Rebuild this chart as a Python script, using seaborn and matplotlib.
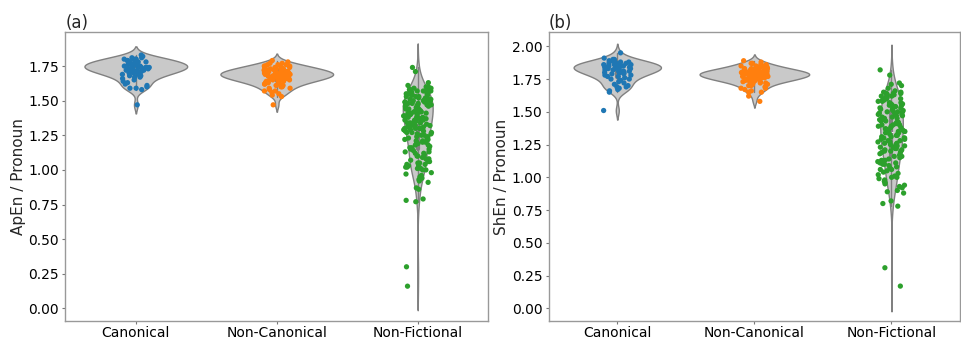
import matplotlib
matplotlib.use('Agg')

import matplotlib.pyplot as plt
import numpy as np
import pandas as pd
import seaborn as sns

categories = ['Canonical', 'Non-Canonical', 'Non-Fictional']

# ApEn / Pronoun values
apen_canon = [1.47, 1.58, 1.59, 1.59, 1.60, 1.61, 1.62, 1.63, 1.64, 1.65,
              1.66, 1.67, 1.67, 1.68, 1.68, 1.69, 1.69, 1.70, 1.70, 1.70,
              1.71, 1.71, 1.71, 1.72, 1.72, 1.72, 1.73, 1.73, 1.73, 1.73,
              1.74, 1.74, 1.74, 1.74, 1.75, 1.75, 1.75, 1.75, 1.76, 1.76,
              1.76, 1.76, 1.77, 1.77, 1.77, 1.78, 1.78, 1.78, 1.78, 1.79,
              1.79, 1.79, 1.80, 1.80, 1.80, 1.81, 1.81, 1.82, 1.83, 1.74]
apen_noncanon = [1.47, 1.53, 1.54, 1.55, 1.56, 1.57, 1.57, 1.58, 1.59, 1.59,
                 1.60, 1.60, 1.61, 1.61, 1.62, 1.62, 1.62, 1.63, 1.63, 1.63,
                 1.64, 1.64, 1.64, 1.65, 1.65, 1.65, 1.65, 1.66, 1.66, 1.66,
                 1.66, 1.67, 1.67, 1.67, 1.67, 1.67, 1.68, 1.68, 1.68, 1.68,
                 1.68, 1.69, 1.69, 1.69, 1.69, 1.69, 1.69, 1.70, 1.70, 1.70,
                 1.70, 1.70, 1.71, 1.71, 1.71, 1.71, 1.71, 1.72, 1.72, 1.72,
                 1.72, 1.73, 1.73, 1.73, 1.73, 1.74, 1.74, 1.74, 1.74, 1.75,
                 1.75, 1.75, 1.76, 1.76, 1.76, 1.77, 1.77, 1.78, 1.79, 1.70,
                 1.68, 1.66, 1.64, 1.72, 1.69, 1.71, 1.67, 1.65, 1.73, 1.70]
apen_nonfict = [1.74, 1.71, 1.63, 1.61, 1.60, 1.60,
                1.59, 1.59, 1.58, 1.58, 1.58, 1.57, 1.57, 1.57, 1.56, 1.56,
                1.56, 1.55, 1.55, 1.55, 1.54, 1.54, 1.54, 1.53, 1.53, 1.53,
                1.52, 1.52, 1.52, 1.51, 1.51, 1.51, 1.50, 1.50, 1.50, 1.50,
                1.49, 1.49, 1.49, 1.48, 1.48, 1.48, 1.47, 1.47, 1.47, 1.47,
                1.46, 1.46, 1.46, 1.45, 1.45, 1.45, 1.44, 1.44, 1.44, 1.43,
                1.43, 1.43, 1.42, 1.42, 1.42, 1.41, 1.41, 1.41, 1.40, 1.40,
                1.40, 1.40,
                1.39, 1.39, 1.38, 1.38, 1.38, 1.37, 1.37, 1.36, 1.36, 1.36,
                1.35, 1.35, 1.34, 1.34, 1.34, 1.33, 1.33, 1.32, 1.32, 1.32,
                1.31, 1.31, 1.30, 1.30, 1.30, 1.30,
                1.29, 1.29, 1.28, 1.28, 1.27, 1.27, 1.26, 1.26, 1.25, 1.25,
                1.24, 1.24, 1.23, 1.23, 1.22, 1.22, 1.21, 1.21, 1.20, 1.20,
                1.20, 1.27,
                1.19, 1.18, 1.17, 1.16, 1.15, 1.15, 1.14, 1.13, 1.12, 1.12,
                1.11, 1.10, 1.10, 1.18, 1.16, 1.13,
                1.09, 1.08, 1.08, 1.07, 1.06, 1.06, 1.05, 1.05, 1.04, 1.04,
                1.03, 1.03, 1.02, 1.02, 1.01, 1.01, 1.00, 1.00,
                0.98, 0.97, 0.96, 0.95, 0.94, 0.93, 0.92, 0.91,
                0.87, 0.86, 0.79, 0.78, 0.77,
                0.30, 0.16]

# ShEn / Pronoun values
shen_canon = [1.51, 1.65, 1.66, 1.67, 1.68, 1.69, 1.69, 1.70, 1.71, 1.72,
              1.73, 1.74, 1.75, 1.75, 1.76, 1.77, 1.77, 1.78, 1.78, 1.79,
              1.79, 1.80, 1.80, 1.80, 1.81, 1.81, 1.81, 1.82, 1.82, 1.82,
              1.83, 1.83, 1.83, 1.84, 1.84, 1.84, 1.84, 1.85, 1.85, 1.85,
              1.85, 1.86, 1.86, 1.86, 1.86, 1.87, 1.87, 1.87, 1.88, 1.88,
              1.88, 1.89, 1.89, 1.90, 1.90, 1.91, 1.85, 1.83, 1.80, 1.95]
shen_noncanon = [1.58, 1.62, 1.65, 1.65, 1.66, 1.67, 1.68, 1.68, 1.69, 1.70,
                 1.70, 1.71, 1.71, 1.72, 1.72, 1.72, 1.73, 1.73, 1.73, 1.74,
                 1.74, 1.74, 1.74, 1.75, 1.75, 1.75, 1.75, 1.76, 1.76, 1.76,
                 1.76, 1.76, 1.77, 1.77, 1.77, 1.77, 1.77, 1.78, 1.78, 1.78,
                 1.78, 1.78, 1.78, 1.79, 1.79, 1.79, 1.79, 1.79, 1.79, 1.80,
                 1.80, 1.80, 1.80, 1.80, 1.81, 1.81, 1.81, 1.81, 1.81, 1.82,
                 1.82, 1.82, 1.82, 1.83, 1.83, 1.83, 1.83, 1.84, 1.84, 1.84,
                 1.85, 1.85, 1.85, 1.86, 1.86, 1.87, 1.87, 1.88, 1.89, 1.79,
                 1.78, 1.77, 1.80, 1.76, 1.81, 1.75, 1.82, 1.74, 1.79, 1.80]
shen_nonfict = [1.82, 1.78, 1.72, 1.71, 1.70, 1.68,
                1.66, 1.65, 1.65, 1.64, 1.64, 1.64, 1.63, 1.63, 1.62, 1.62,
                1.61, 1.61, 1.60, 1.60, 1.59, 1.59, 1.58, 1.58, 1.57, 1.57,
                1.56, 1.56, 1.55, 1.55, 1.55, 1.54, 1.54, 1.53, 1.53, 1.52,
                1.52, 1.51, 1.51, 1.50, 1.50, 1.50, 1.49, 1.49, 1.48, 1.48,
                1.47, 1.47, 1.46, 1.46, 1.45, 1.45, 1.45, 1.44, 1.44, 1.43,
                1.43, 1.42, 1.42, 1.41, 1.41, 1.40, 1.40, 1.40,
                1.39, 1.39, 1.38, 1.38, 1.37, 1.37, 1.36, 1.36, 1.35, 1.35,
                1.35, 1.34, 1.34, 1.33, 1.33, 1.32, 1.32, 1.31, 1.31, 1.30,
                1.30, 1.30, 1.29, 1.29, 1.28, 1.28, 1.27, 1.27, 1.26, 1.26,
                1.25, 1.25, 1.24, 1.24, 1.23, 1.23, 1.22, 1.22, 1.21, 1.21,
                1.20, 1.20, 1.20,
                1.19, 1.19, 1.18, 1.17, 1.16, 1.16, 1.15, 1.14, 1.13, 1.13,
                1.12, 1.11, 1.11, 1.10, 1.10,
                1.09, 1.08, 1.07, 1.06, 1.06, 1.05, 1.04, 1.03, 1.02, 1.01,
                1.00, 1.00,
                0.99, 0.98, 0.97, 0.96, 0.95, 0.94, 0.93, 0.92, 0.90, 0.89,
                0.88, 0.82, 0.80, 0.78,
                0.31, 0.17]


def make_frame(canon, noncanon, nonfict):
    groups = [canon, noncanon, nonfict]
    rows = []
    for cat, vals in zip(categories, groups):
        for v in vals:
            rows.append({'group': cat, 'value': v})
    return pd.DataFrame(rows)


df_apen = make_frame(apen_canon, apen_noncanon, apen_nonfict)
df_shen = make_frame(shen_canon, shen_noncanon, shen_nonfict)

sns.set_style("white")
plt.rcParams['axes.edgecolor'] = '#999999'
plt.rcParams['xtick.color'] = '#777777'
plt.rcParams['ytick.color'] = '#777777'
plt.rcParams['xtick.labelcolor'] = 'black'
plt.rcParams['ytick.labelcolor'] = 'black'

fig = plt.figure(figsize=(9.61, 3.42), dpi=100)
ax1 = fig.add_axes([0.068, 0.060, 0.440, 0.846])
ax2 = fig.add_axes([0.571, 0.060, 0.428, 0.846])

panels = [(ax1, df_apen, 'ApEn / Pronoun', '(a)', (-0.095, 1.995)),
          (ax2, df_shen, 'ShEn / Pronoun', '(b)', (-0.10, 2.108))]

np.random.seed(3)
for ax, df, ylab, tag, ylim in panels:
    sns.violinplot(data=df, x='group', y='value', order=categories,
                   color='#c9c9c9', linecolor='#808080', linewidth=1,
                   inner_kws={'box_width': 3, 'whis_width': 1}, ax=ax)
    sns.stripplot(data=df, x='group', y='value', order=categories,
                  hue='group', hue_order=categories, palette='tab10',
                  size=3.8, jitter=0.1, legend=False, ax=ax)
    ax.set_ylim(*ylim)
    ax.set_xlabel('')
    ax.set_ylabel(ylab, fontsize=11, labelpad=2)
    ax.set_title(tag, loc='left', fontsize=12, pad=3)
    ax.tick_params(axis='both', labelsize=10, length=2.5, width=0.8, pad=2,
                   bottom=True, left=True)
    ax.tick_params(axis='x', pad=1)
    for sp in ax.spines.values():
        sp.set_linewidth(1)

ax1.set_yticks([0.0, 0.25, 0.5, 0.75, 1.0, 1.25, 1.5, 1.75])
ax2.set_yticks([0.0, 0.25, 0.5, 0.75, 1.0, 1.25, 1.5, 1.75, 2.0])

fig.savefig('out.png', dpi=100)
plt.close(fig)
